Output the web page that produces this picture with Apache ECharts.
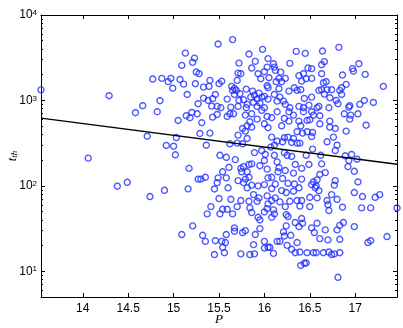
<!DOCTYPE html>
<html>
<head>
<meta charset="utf-8">
<script src="https://cdn.jsdelivr.net/npm/echarts@6/dist/echarts.min.js"></script>
<style>
html, body { margin: 0; padding: 0; background: #fff; }
#chart { width: 403px; height: 328px; }
</style>
</head>
<body>
<div id="chart"></div>
<script>
// P values of the points (x)
var pValues = [
  13.54, 14.29, 14.06, 14.38, 14.49, 14.58, 15.49, 15.65, 15.13, 15.23, 15.21, 15.09, 15.25, 15.28,
  14.77, 14.87, 14.94, 14.97, 14.99, 15.07, 15.11, 15.24, 15.15, 15.33, 15.39, 15.40, 15.50, 15.53,
  15.33, 15.38, 15.43, 15.46, 15.59, 14.66, 14.85, 15.27, 15.42, 15.48, 15.52, 15.63, 15.72, 15.83,
  15.90, 15.98, 16.04, 15.86, 15.71, 15.74, 15.70, 15.93, 16.00, 16.03, 15.96, 16.05, 15.64, 15.67,
  15.65, 15.69, 15.73, 15.67, 15.80, 15.87, 15.89, 15.94, 15.85, 15.92, 15.97, 16.03, 16.04, 16.00,
  16.04, 15.72, 15.77, 15.81, 15.88, 15.92, 15.95, 15.80, 15.71, 16.00,
  16.82, 16.64, 16.35, 16.45, 16.66, 16.63, 17.04, 16.28, 16.10, 16.11, 16.48, 16.52, 16.97, 16.98,
  16.12, 16.18, 16.63, 16.86, 17.11, 16.38, 16.43, 16.16, 16.23, 16.46, 16.52, 16.41, 16.65, 16.68,
  16.13, 16.19, 16.90, 16.85, 17.31, 16.16, 16.33, 16.27, 16.36, 16.40, 16.60, 16.63, 16.69, 16.74,
  16.66, 16.83, 16.85, 16.11, 16.17, 16.21, 16.14, 16.44, 16.52, 16.72, 16.79, 16.81, 17.10, 17.20,
  17.05, 16.94, 16.93, 16.60, 16.71, 16.23, 16.38, 16.49, 16.43, 16.28, 16.58,
  14.82, 15.05, 15.14, 15.18, 15.20, 15.26, 15.31, 15.43, 15.48, 15.59, 15.62, 15.66, 14.71, 14.92,
  15.00, 15.02, 15.03, 15.29, 15.40, 15.36, 15.17, 15.27, 15.30, 15.35, 14.90, 15.16, 14.74, 15.51,
  15.58, 15.68, 15.54, 15.61, 15.49, 15.48, 15.58, 15.45, 15.60, 15.50, 15.63, 15.41, 15.54, 15.71,
  15.62, 15.70, 15.76, 15.81, 15.76, 15.79, 15.81, 15.86, 15.84, 15.92, 15.79, 15.86, 15.97, 16.03,
  16.00, 16.04, 15.89, 15.97, 16.01, 16.00, 15.95, 16.03, 15.86, 15.74, 15.77, 15.83, 15.81, 15.75,
  15.71, 15.79, 15.83, 15.77, 15.86, 15.93, 16.00, 16.04, 15.81, 15.88, 15.94, 16.03, 15.74, 15.83,
  15.92, 15.70, 15.84, 16.04, 15.59,
  16.14, 16.27, 16.32, 16.43, 16.52, 16.54, 16.61, 16.88, 16.95, 17.03, 16.08, 16.22, 16.27, 16.38,
  16.47, 16.50, 16.61, 16.72, 16.94, 16.19, 16.40, 16.72, 16.78, 17.12, 16.90, 16.36, 16.42, 16.47,
  16.53, 16.08, 16.22, 16.26, 16.32, 16.52, 16.14, 16.20, 16.30, 16.36, 16.39, 16.69, 16.76, 16.80,
  16.11, 16.07, 16.53, 16.78, 16.22, 16.25, 16.30, 16.11, 16.46, 16.62, 16.89, 16.96, 17.02, 16.93,
  16.14, 16.34, 16.49, 16.63, 16.92, 16.16, 16.23, 16.41, 16.15, 16.32, 16.61, 16.67, 16.99, 16.08,
  16.20, 16.41, 16.58, 16.54, 16.78, 17.03, 16.12, 16.26, 16.33, 16.38, 16.52, 16.57, 16.77, 16.08,
  16.19, 16.24, 16.32, 16.56, 16.60, 16.74, 16.99, 17.08, 17.22, 17.27, 16.12, 16.17, 16.28, 16.36,
  16.41, 16.50, 16.69, 16.80, 17.46, 17.07, 17.17, 16.23, 16.50, 16.70, 16.86,
  15.37, 15.51, 15.65, 15.86, 16.00, 16.03, 15.93, 15.95, 15.21, 15.09, 15.32, 15.35, 15.46, 15.53,
  15.57, 15.58, 15.54, 15.56, 15.45, 15.67, 15.67, 15.76, 15.79, 15.90, 15.95, 16.00, 15.88, 16.00,
  16.04, 15.74, 15.84, 15.89,
  16.08, 16.39, 16.58, 16.71, 16.10, 16.11, 16.08, 16.24, 16.26, 16.41, 16.34, 16.42, 16.38, 16.24,
  16.52, 16.58, 16.55, 16.67, 16.80, 16.83, 16.87, 16.99, 16.21, 16.29, 16.14, 16.17, 16.36, 16.22,
  16.61, 16.70, 16.83, 17.14, 17.17, 17.35, 16.06, 16.25, 16.30, 16.10, 16.34, 16.39, 16.47, 16.54,
  16.57, 16.65, 16.71, 16.74, 16.77, 16.83, 16.40, 16.44, 16.46, 16.81
];
// t_th values of the points (y)
var tValues = [
  1330, 1135, 211, 99, 110, 718, 4570, 5150, 3580, 3130, 2790, 2570, 2150, 2060,
  1780, 1810, 1660, 1810, 1390, 1760, 1550, 1570, 1175, 1430, 1460, 1715, 1570, 1680,
  1064, 1000, 1047, 1175, 1036, 867, 992, 915, 858, 851, 821, 834, 2735, 3490,
  2864, 3963, 3083, 2393, 2089, 2056, 1715, 2056, 2169, 2455, 1796, 1845, 1459, 1383,
  1310, 1310, 1198, 1175, 1357, 1285, 1153, 1218, 1094, 1036, 1094, 1486, 1409, 1114,
  1036, 1000, 1019, 898, 947, 851, 930, 821, 851, 821,
  4180, 3784, 3750, 3557, 2843, 2621, 2692, 2716, 2692, 2455, 2393, 2355, 2355, 2205,
  2248, 2147, 2056, 1982, 2018, 1950, 2056, 1811, 1811, 1796, 1811, 1683, 1613, 1656,
  1656, 1656, 1540, 1409, 1459, 1371, 1409, 1285, 1310, 1335, 1310, 1335, 1335, 1335,
  1186, 1310, 1175, 1175, 1094, 981, 981, 1055, 1094, 1076, 1000, 915, 1000, 947,
  898, 867, 834, 851, 821, 898, 851, 881, 821, 821, 821,
  737, 583, 662, 627, 723, 698, 548, 637, 685, 649, 698, 698, 381, 297,
  291, 231, 368, 410, 414, 299, 160, 120, 120, 126, 88.7, 92.2, 75, 228,
  216, 203, 146, 165, 124, 109, 124, 92, 95, 71, 69.6, 57.2, 53.2, 392,
  311, 316, 311, 359, 470, 437, 505, 486, 562, 604, 673, 698, 764, 649,
  533, 479, 245, 259, 233, 198, 172, 157, 181, 160, 168, 178, 146, 146,
  115, 120, 126, 109, 102, 100, 103.5, 124, 95, 79, 72.3, 76.3, 67.3, 66,
  66, 57.2, 55.2, 61.5, 53.2,
  737, 737, 673, 737, 737, 673, 662, 698, 673, 698, 627, 615, 572, 572,
  583, 594, 533, 572, 604, 505, 505, 486, 470, 513, 437, 430, 414, 430,
  422, 372, 366, 372, 359, 378, 333, 328, 322, 316, 316, 328, 372, 299,
  299, 284, 269, 259, 245, 228, 221, 228, 228, 228, 225, 233, 205, 198,
  191, 178, 178, 181, 168, 163, 151, 160, 146, 141, 136, 143, 148, 126,
  122, 120, 117.5, 111, 115, 111, 105, 107, 105, 95, 103.5, 100, 102, 93,
  88, 83.5, 86.5, 95, 88, 79, 83.5, 75, 73.5, 79, 72.3, 64.9, 66, 67.3,
  67.3, 73.5, 67.3, 69.6, 55.2, 55.2, 55.2, 57.2, 57.2, 60.4, 56.2,
  47, 47, 47, 48.7, 49.5, 54.2, 42.9, 39.9, 34, 26.9, 26.4, 22.4, 22.8, 22.4,
  21.7, 26.9, 19.1, 16.5, 15.7, 32.2, 29.4, 28.4, 29.9, 26.9, 31.6, 22.4, 20.5, 18.7,
  19.1, 16, 15.7, 16,
  67.3, 58, 72.3, 51.4, 52.4, 47, 42.9, 46.1, 43.7, 41.4, 37.2, 36.5, 33.3, 34,
  32.2, 36.5, 28.4, 30.5, 30.5, 34.5, 37.2, 33.3, 28.9, 26.4, 22.4, 22.4, 21.7, 25.9,
  24.1, 23.3, 23.7, 21.7, 22.8, 25.5, 19.1, 20.1, 18.1, 16.2, 16.5, 16.8, 16.5, 16.5,
  16.5, 16.5, 16.8, 15.7, 16, 16.5, 11.7, 12.4, 12.5, 8.5
];
// fitted line end points
var fitP = [13.54, 17.46];
var fitT = [620, 179];

var xTicks = [14, 14.5, 15, 15.5, 16, 16.5, 17];
var yTicks = [10, 100, 1000, 10000];
var yMinorTicks = [6, 7, 8, 9, 20, 30, 40, 50, 60, 70, 80, 90,
  200, 300, 400, 500, 600, 700, 800, 900, 2000, 3000, 4000, 5000, 6000, 7000, 8000, 9000];

var xMin = 13.54, xMax = 17.46;
var yMin = 5, yMax = 10000;

var points = pValues.map(function (p, i) { return [p, tValues[i]]; });
var fitLine = fitP.map(function (p, i) { return [p, fitT[i]]; });

var chart = echarts.init(document.getElementById('chart'));

var font = 'Liberation Sans, Arial, sans-serif';
var serif = 'Liberation Serif, Times New Roman, serif';
var boxLine = { show: true, onZero: false, lineStyle: { color: '#000', width: 1 } };

// tick-only axes (labels live on their own axes)
function tickX(pos) {
  return {
    type: 'value', min: xMin, max: xMax, position: pos,
    axisLine: pos === 'top' ? boxLine : { show: false },
    axisTick: { show: true, inside: true, length: 4, customValues: xTicks, lineStyle: { color: '#000', width: 1 } },
    axisLabel: { show: false },
    splitLine: { show: false }
  };
}
function tickY(pos, values, len, line) {
  return {
    type: 'log', logBase: 10, min: yMin, max: yMax, position: pos,
    axisLine: line ? boxLine : { show: false },
    axisTick: { show: true, inside: true, length: len, customValues: values, lineStyle: { color: '#000', width: 1 } },
    axisLabel: { show: false },
    splitLine: { show: false }
  };
}

var option = {
  backgroundColor: '#fff',
  animation: false,
  grid: { left: 41, top: 15, right: 6, bottom: 31, outerBoundsMode: 'none' },
  xAxis: [{
    type: 'value', min: xMin, max: xMax, position: 'bottom',
    axisLine: boxLine,
    axisTick: { show: false },
    axisLabel: { customValues: xTicks, color: '#000', fontSize: 12, fontFamily: font, margin: 6 },
    splitLine: { show: false },
    name: 'P', nameLocation: 'middle', nameGap: 16, nameMoveOverlap: false,
    nameTextStyle: { fontFamily: serif, fontStyle: 'italic', fontSize: 13, color: '#000' }
  }, tickX('bottom'), tickX('top')],
  yAxis: [{
    type: 'log', logBase: 10, min: yMin, max: yMax, position: 'left',
    axisLine: boxLine,
    axisTick: { show: false },
    axisLabel: {
      customValues: yTicks, margin: 4,
      formatter: function (v) {
        return '{b|10}{s|' + Math.round(Math.log10(v)) + '}';
      },
      rich: {
        b: { fontSize: 12, fontFamily: font, color: '#000' },
        s: { fontSize: 8, fontFamily: font, color: '#000', verticalAlign: 'top' }
      }
    },
    splitLine: { show: false },
    name: '{i|t}{s|th}', nameLocation: 'middle', nameRotate: 90, nameGap: 22, nameMoveOverlap: false,
    nameTextStyle: {
      rich: {
        i: { fontFamily: serif, fontStyle: 'italic', fontSize: 13, color: '#000' },
        s: { fontFamily: serif, fontStyle: 'italic', fontSize: 9, color: '#000', verticalAlign: 'bottom' }
      }
    }
  },
  tickY('left', yTicks, 4, false),
  tickY('right', yTicks, 4, true),
  tickY('left', yMinorTicks, 2, false),
  tickY('right', yMinorTicks, 2, false)],
  series: [{
    type: 'scatter',
    xAxisIndex: 0,
    yAxisIndex: 0,
    data: points,
    symbol: 'circle',
    symbolSize: 6,
    itemStyle: { color: 'rgba(0,0,0,0)', borderColor: '#2030ff', borderWidth: 1.4 },
    z: 2
  }, {
    type: 'line',
    xAxisIndex: 0,
    yAxisIndex: 0,
    data: fitLine,
    symbol: 'none',
    lineStyle: { color: '#000', width: 1.3 },
    z: 3
  }]
};

chart.setOption(option);
</script>
</body>
</html>
